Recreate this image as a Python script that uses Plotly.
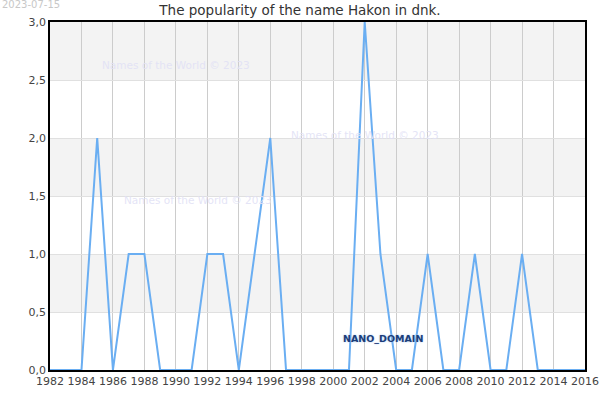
import plotly.graph_objects as go

years = list(range(1982, 2017))
values = [0, 0, 0, 2, 0, 1, 1, 0, 0, 0, 1, 1, 0, 1, 2, 0, 0, 0, 0, 0,
          3, 1, 0, 0, 1, 0, 0, 1, 0, 0, 1, 0, 0, 0, 0]
y_ticks = [0, 0.5, 1.0, 1.5, 2.0, 2.5, 3.0]
x_ticks = list(range(1982, 2017, 2))
title_text = "The popularity of the name Hakon in dnk."
date_text = "2023-07-15"
watermark = "Names of the World © 2023"
domain_text = "NANO_DOMAIN"

PL, PR, PT, PB = 50, 585, 22, 370
PW, PH = PR - PL, PB - PT

fig = go.Figure()
fig.add_trace(go.Scatter(x=years, y=values, mode="lines",
                         line=dict(color="#6aaef2", width=2),
                         hoverinfo="x+y", showlegend=False))

shapes = []
for i in range(len(y_ticks) - 1):
    if i % 2 == 1:
        shapes.append(dict(type="rect", xref="paper", yref="y", x0=0, x1=1,
                           y0=y_ticks[i], y1=y_ticks[i + 1],
                           fillcolor="#f3f3f3", line=dict(width=0), layer="below"))
fig.update_layout(shapes=shapes)

def px2paper(px, py):
    return (px - PL) / PW, (PB - py) / PH

annots = []
dx, dy = px2paper(0, 5)
annots.append(dict(text=date_text, x=dx, y=dy, xref="paper", yref="paper",
                   xanchor="left", yanchor="middle", showarrow=False,
                   font=dict(size=10, color="#c8c8c8", family="DejaVu Sans")))
for (px, py) in [(100, 65), (289, 135), (122, 200)]:
    ax, ay = px2paper(px, py)
    annots.append(dict(text=watermark, x=ax, y=ay, xref="paper", yref="paper",
                       xanchor="left", yanchor="middle", showarrow=False,
                       font=dict(size=10.5, color="rgba(225,225,245,0.9)", family="DejaVu Sans")))
ax, ay = px2paper(341, 338)
annots.append(dict(text=domain_text, x=ax, y=ay, xref="paper", yref="paper",
                   xanchor="left", yanchor="middle", showarrow=False,
                   font=dict(size=9.5, color="#1c3d78", family="DejaVu Sans", weight="bold",
                             shadow="0px 0px 2px #9ec3f0")))
fig.update_layout(annotations=annots)

fig.update_layout(
    width=600, height=400,
    margin=dict(l=PL, r=600 - PR, t=PT, b=400 - PB, autoexpand=False),
    plot_bgcolor="white", paper_bgcolor="white",
    separators=", ",
    title=dict(text=title_text, x=0.5, xanchor="center", y=0.975, yanchor="middle",
               font=dict(size=13.5, color="#333", family="DejaVu Sans")),
    xaxis=dict(range=[1982, 2016], tickvals=x_ticks, ticktext=[str(t) for t in x_ticks],
               showgrid=True, gridcolor="#cccccc", gridwidth=1,
               showline=True, linecolor="black", linewidth=1.5, mirror=True,
               ticks="", zeroline=False, automargin=False,
               tickfont=dict(size=11, color="#444", family="DejaVu Sans")),
    yaxis=dict(range=[0, 3], tickvals=y_ticks, tickformat=".1f",
               showgrid=True, gridcolor="#e0e0e0", gridwidth=1,
               showline=True, linecolor="black", linewidth=1.5, mirror=True,
               ticks="", zeroline=False, automargin=False,
               tickfont=dict(size=11, color="#444", family="DejaVu Sans")),
)

fig.write_html("out.html")
